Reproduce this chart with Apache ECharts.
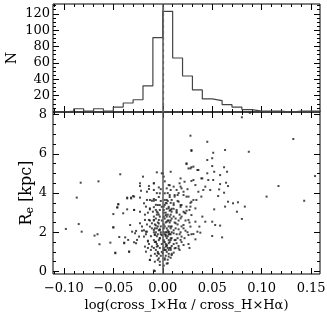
<!DOCTYPE html>
<html>
<head>
<meta charset="utf-8">
<script src="https://cdn.jsdelivr.net/npm/echarts@6/dist/echarts.min.js"></script>
<style>
  html, body { margin: 0; padding: 0; background: #fff; }
  #chart { width: 327px; height: 314px; }
</style>
</head>
<body>
<div id="chart"></div>
<script>
// histogram: left bin edges and counts (bin width 0.01)
var binEdges = [-0.11, -0.10, -0.09, -0.08, -0.07, -0.06, -0.05, -0.04, -0.03, -0.02, -0.01,
  0.00, 0.01, 0.02, 0.03, 0.04, 0.05, 0.06, 0.07, 0.08, 0.09, 0.10, 0.11, 0.12, 0.13, 0.14, 0.15]
var binCounts = [0, 1, 4, 1, 4, 1, 6, 11, 15, 32, 91,
  123, 66, 44, 27, 16, 14, 9, 6, 3, 1, 1, 1, 0, 1, 1, 1]
var binEnd = 0.16
var medianLine = 0.0045

// scatter: [log ratio, Re (kpc)]
var scatterPts = [
  [-0.098, 2.17], [-0.087, 3.77], [-0.083, 4.53], [-0.085, 2.42], [-0.082, 2.03], [-0.065, 4.60],
  [-0.069, 1.83], [-0.066, 1.90], [-0.064, 1.39], [-0.050, 2.24], [-0.048, 0.93], [-0.046, 3.26],
  [-0.045, 3.43], [-0.043, 4.96], [-0.044, 1.76], [-0.040, 2.97], [-0.039, 1.47], [-0.035, 1.61],
  [-0.036, 3.73], [-0.032, 3.77], [-0.030, 3.85], [-0.053, 1.47], [-0.034, 1.01], [-0.029, 3.14],
  [-0.028, 1.95], [-0.026, 1.61], [-0.024, 1.78], [-0.023, 2.46], [-0.023, 3.05], [-0.020, 4.84],
  [-0.021, 2.29], [-0.018, 2.63], [-0.019, 3.48], [-0.016, 3.65], [-0.017, 2.03], [-0.014, 4.21],
  [-0.013, 3.22], [-0.015, 1.53], [-0.013, 0.59], [-0.011, 1.27], [-0.009, 4.50], [-0.006, 5.06],
  [-0.009, 2.63], [-0.007, 3.65], [-0.005, 0.59], [-0.008, 0.02], [-0.003, 0.33], [-0.001, 5.01],
  [-0.003, 3.14],
  [-0.050, 2.93], [-0.050, 2.26], [-0.033, 2.37], [-0.031, 2.03], [-0.027, 2.07], [-0.038, 1.74],
  [-0.039, 1.44], [-0.029, 1.49], [-0.027, 1.44], [-0.048, 0.96], [-0.034, 1.01], [-0.021, 2.08],
  [-0.019, 1.78], [-0.016, 2.03], [-0.014, 2.63], [-0.015, 1.57], [-0.013, 2.29], [-0.011, 2.46],
  [-0.009, 2.80], [-0.009, 2.12], [-0.008, 1.86], [-0.007, 1.52], [-0.006, 1.27], [-0.005, 0.93],
  [-0.004, 0.67], [-0.008, 0.50], [-0.013, 0.59], [-0.009, 0.05], [-0.010, 3.05], [-0.006, 3.05],
  [-0.004, 2.63], [-0.003, 2.12], [-0.003, 1.69], [-0.018, 1.27], [-0.017, 1.01], [-0.012, 1.10],
  [0.029, 6.15], [0.024, 5.48], [0.028, 5.26], [0.031, 5.35], [0.036, 5.18], [0.008, 5.09],
  [0.000, 5.01], [0.001, 4.84], [0.018, 4.75], [0.017, 4.50], [0.022, 4.58], [0.029, 4.62],
  [0.039, 4.75], [0.011, 4.33], [0.006, 4.41], [0.004, 4.24], [0.014, 4.16], [0.019, 4.24],
  [0.033, 4.41], [0.043, 4.33], [0.036, 4.07], [0.002, 3.99], [0.007, 3.90], [0.012, 3.82],
  [0.021, 3.90], [0.026, 3.82], [0.039, 3.82], [0.002, 3.65], [0.009, 3.65], [0.016, 3.56],
  [0.029, 3.56], [0.034, 3.65], [0.004, 3.48], [0.011, 3.39], [0.019, 3.39], [0.024, 3.31],
  [0.033, 3.22], [0.006, 3.22], [0.001, 3.14], [0.014, 3.14], [0.009, 3.05], [0.021, 3.05],
  [0.027, 3.14], [-0.003, 3.99], [-0.003, 3.39],
  [-0.023, 4.50], [-0.023, 4.36], [-0.014, 4.36], [-0.009, 4.50], [-0.004, 4.29], [-0.016, 4.07],
  [-0.022, 4.12], [-0.009, 4.16], [-0.029, 3.82], [-0.032, 3.73], [-0.036, 3.77], [-0.023, 3.77],
  [-0.013, 3.65], [-0.011, 3.61], [-0.009, 3.61], [-0.045, 3.43], [-0.046, 3.28], [-0.036, 3.17],
  [-0.029, 3.14], [-0.017, 3.31], [-0.013, 3.17], [-0.009, 3.28], [-0.007, 3.14], [-0.005, 3.39],
  [0.080, 7.87], [0.088, 8.10], [0.028, 6.93], [0.045, 6.62], [0.029, 6.20], [0.051, 6.06],
  [0.063, 6.20], [0.087, 6.11], [0.132, 6.76], [0.045, 5.69], [0.050, 5.78], [0.050, 5.38],
  [0.024, 5.52], [0.026, 5.26], [0.029, 5.32], [0.062, 5.32], [0.035, 5.18], [0.065, 5.09],
  [0.045, 5.01], [0.052, 5.09], [0.058, 4.92], [0.154, 4.87], [0.117, 4.36], [0.040, 4.75],
  [0.046, 4.67], [0.051, 4.67], [0.064, 4.53], [0.066, 4.36], [0.058, 4.46], [0.031, 4.67],
  [0.041, 4.16], [0.048, 4.16], [0.057, 4.19], [0.062, 4.02], [0.056, 3.85], [0.105, 3.82],
  [0.066, 3.56], [0.071, 3.48], [0.076, 3.53], [0.143, 3.61], [0.063, 3.31], [0.083, 3.31],
  [0.052, 3.17], [0.075, 3.05], [0.080, 2.68], [0.050, 2.54], [0.053, 2.37], [0.058, 2.34],
  [0.040, 2.80], [0.043, 2.54], [0.037, 2.29], [0.035, 2.03], [0.038, 1.98], [0.050, 1.81],
  [0.060, 1.74], [0.031, 1.91], [0.026, 1.86], [0.033, 1.64], [0.018, 1.61], [0.014, 1.44],
  [0.012, 1.18], [0.008, 1.10], [0.009, 0.84], [0.005, 0.42], [0.002, 0.67], [0.011, 0.96],
  [0.004, 1.35], [0.001, 1.10],
  [0.018, 4.33], [0.021, 4.07], [0.008, 4.16], [0.015, 3.90], [0.024, 3.82], [0.031, 3.65],
  [0.004, 3.65], [0.011, 3.48], [0.018, 3.39], [0.028, 3.31], [0.001, 3.31], [0.008, 3.14],
  [0.014, 3.05], [0.023, 2.97], [0.029, 2.88], [0.003, 2.88], [0.011, 2.80], [0.018, 2.71],
  [0.026, 2.63], [0.033, 2.54], [0.004, 2.54], [0.013, 2.46], [0.021, 2.37], [0.008, 2.29],
  [0.028, 2.29], [0.001, 2.20], [0.016, 2.15], [0.023, 2.08], [0.006, 2.03], [0.011, 1.95],
  [0.003, 1.86], [0.019, 1.78], [0.008, 1.69], [0.013, 1.61], [0.001, 1.52], [0.006, 1.44],
  [0.021, 1.35], [0.003, 1.27], [0.016, 1.18], [0.000, 0.93], [0.006, 0.76],
  [-0.001, 2.60], [-0.002, 2.30], [-0.002, 1.90], [-0.003, 2.80], [-0.004, 2.10], [-0.004, 1.60],
  [-0.005, 2.50], [-0.005, 1.30], [-0.006, 2.20], [-0.006, 1.80], [-0.007, 2.70], [-0.007, 1.10],
  [-0.008, 2.40], [-0.008, 1.50], [-0.009, 2.00], [-0.009, 1.20], [-0.001, 3.30], [-0.002, 3.60],
  [-0.003, 1.20], [-0.004, 0.90], [-0.005, 3.00], [-0.006, 0.80], [-0.007, 3.40], [-0.008, 0.90],
  [-0.009, 3.70], [-0.001, 1.40], [-0.002, 0.80], [-0.003, 0.50], [-0.004, 2.90], [-0.005, 1.90],
  [-0.006, 1.40], [-0.007, 2.00], [-0.008, 1.90], [-0.009, 2.60], [-0.002, 4.20], [-0.004, 3.80],
  [-0.006, 4.00], [-0.001, 1.00], [-0.003, 1.70], [-0.005, 2.30], [-0.007, 1.50], [-0.008, 2.20],
  [-0.002, 2.00], [-0.004, 2.45], [-0.006, 2.90], [-0.003, 2.15], [-0.001, 1.85], [-0.005, 1.00],
  [-0.007, 2.35], [-0.009, 1.60],
  [0.001, 2.40], [0.002, 1.90], [0.002, 2.70], [0.003, 1.40], [0.003, 3.00], [0.004, 2.20],
  [0.004, 1.70], [0.005, 2.60], [0.005, 1.20], [0.006, 2.00], [0.006, 3.30], [0.007, 1.50],
  [0.007, 2.50], [0.008, 1.90], [0.008, 2.90], [0.009, 1.30], [0.009, 2.30], [0.001, 1.60],
  [0.001, 3.00], [0.002, 1.10], [0.002, 3.40], [0.003, 2.00], [0.003, 0.80], [0.004, 2.80],
  [0.004, 1.00], [0.005, 1.80], [0.005, 3.60], [0.006, 1.10], [0.006, 2.60], [0.007, 1.90],
  [0.007, 3.80], [0.008, 1.20], [0.008, 2.20], [0.009, 1.70], [0.009, 3.20], [0.001, 2.00],
  [0.002, 2.30], [0.003, 2.50], [0.004, 1.30], [0.005, 2.10], [0.006, 1.60], [0.007, 2.80],
  [0.008, 1.60], [0.009, 2.00], [0.001, 1.20], [0.002, 1.50], [0.003, 1.80], [0.004, 3.20],
  [0.005, 0.60], [0.006, 2.30], [0.007, 1.20], [0.008, 2.60], [0.009, 2.70], [0.001, 2.80],
  [0.003, 3.50], [0.005, 4.00], [0.007, 4.40], [0.002, 4.60], [0.004, 0.40], [0.006, 0.90],
  [0.008, 0.70], [0.001, 0.30], [0.003, 1.10], [0.005, 2.90], [0.007, 3.10], [0.009, 0.90],
  [0.004, 2.00], [0.006, 1.90], [0.002, 0.60], [0.008, 3.50],
  [0.011, 2.10], [0.012, 1.60], [0.013, 2.70], [0.014, 1.90], [0.015, 2.40], [0.016, 1.30],
  [0.017, 2.90], [0.018, 2.00], [0.019, 1.50], [0.011, 3.20], [0.012, 2.50], [0.013, 1.20],
  [0.014, 3.00], [0.015, 1.70], [0.016, 2.60], [0.017, 1.90], [0.018, 3.30], [0.019, 2.30],
  [0.011, 1.40], [0.013, 2.20], [0.015, 3.60], [0.017, 1.10], [0.019, 2.80], [0.012, 3.90],
  [0.016, 4.00],
  [0.021, 2.20], [0.022, 1.70], [0.023, 2.60], [0.024, 3.10], [0.025, 2.00], [0.026, 1.40],
  [0.027, 2.50], [0.028, 3.50], [0.029, 1.90], [0.022, 3.00], [0.025, 4.20], [0.027, 1.20],
  [-0.011, 2.20], [-0.012, 1.80], [-0.013, 2.60], [-0.014, 1.40], [-0.015, 3.00], [-0.016, 2.40],
  [-0.017, 1.90], [-0.018, 2.90], [-0.019, 2.10], [-0.012, 0.80], [-0.015, 1.20]
]

// tick labels
var xTickVals = [-0.10, -0.05, 0.00, 0.05, 0.10, 0.15]
var histTickVals = [20, 40, 60, 80, 100, 120]
var reTickVals = [0, 2, 4, 6, 8]

var X_MIN = -0.111, X_MAX = 0.159
var H_MAX = 132
var R_MIN = -0.13, R_MAX = 8.14
var FONT = 'DejaVu Serif'

function steps(from, to, step) {
  var out = []
  for (var v = from; v <= to + 1e-9; v += step) out.push(Math.round(v * 1000) / 1000)
  return out
}
var xMinor = steps(-0.11, 0.15, 0.01)
var hMinor = steps(5, 130, 5)
var rMinor = steps(0, 8, 0.5)

function fmtX(v) {
  var s = Math.abs(v).toFixed(2)
  return (v < -1e-9 ? '\u2212' : '') + s
}

function axis(o) {
  var a = {
    type: 'value',
    gridIndex: o.grid,
    position: o.pos,
    min: o.min,
    max: o.max,
    axisLine: { show: false, onZero: false },
    splitLine: { show: false },
    axisTick: {
      show: true, inside: true, length: o.len,
      customValues: o.ticks,
      lineStyle: { color: '#000', width: 1 }
    },
    axisLabel: { show: false }
  }
  if (o.labels) {
    a.axisLabel = {
      show: true, customValues: o.ticks, margin: o.margin || 4,
      fontFamily: FONT, fontSize: 13, color: '#000',
      formatter: o.fmt
    }
  }
  if (o.name) {
    a.name = o.name
    a.nameLocation = 'middle'
    a.nameGap = o.nameGap
    a.nameRotate = o.nameRotate
    a.nameMoveOverlap = false
    a.nameTextStyle = o.nameStyle
  }
  return a
}

var chart = echarts.init(document.getElementById('chart'), null, { renderer: 'canvas' })

var histData = binEdges.map(function (e, i) { return [e, binCounts[i]] })
histData.push([binEnd, binCounts[binCounts.length - 1]])

var zeroLine = {
  silent: true, symbol: 'none', animation: false,
  label: { show: false },
  lineStyle: { color: '#555', width: 1.5, type: 'solid' },
  data: [{ xAxis: 0 }]
}

chart.setOption({
  animation: false,
  backgroundColor: '#fff',
  grid: [
    { left: 53, top: 4, width: 267, height: 108, containLabel: false, outerBoundsMode: 'none',
      show: true, borderColor: '#000', borderWidth: 1, backgroundColor: 'transparent' },
    { left: 53, top: 112, width: 267, height: 162, containLabel: false, outerBoundsMode: 'none',
      show: true, borderColor: '#000', borderWidth: 1, backgroundColor: 'transparent' }
  ],
  xAxis: [
    axis({ grid: 0, pos: 'bottom', min: X_MIN, max: X_MAX, len: 6, ticks: xTickVals }),
    axis({ grid: 0, pos: 'bottom', min: X_MIN, max: X_MAX, len: 3, ticks: xMinor }),
    axis({ grid: 0, pos: 'top', min: X_MIN, max: X_MAX, len: 6, ticks: xTickVals }),
    axis({ grid: 0, pos: 'top', min: X_MIN, max: X_MAX, len: 3, ticks: xMinor }),
    axis({ grid: 1, pos: 'bottom', min: X_MIN, max: X_MAX, len: 6, ticks: xTickVals, labels: true, margin: 8, fmt: fmtX,
      name: 'log(cross_I\u00d7H\u03b1 / cross_H\u00d7H\u03b1)', nameGap: 25,
      nameStyle: { fontFamily: FONT, fontSize: 13, color: '#000' } }),
    axis({ grid: 1, pos: 'bottom', min: X_MIN, max: X_MAX, len: 3, ticks: xMinor }),
    axis({ grid: 1, pos: 'top', min: X_MIN, max: X_MAX, len: 6, ticks: xTickVals }),
    axis({ grid: 1, pos: 'top', min: X_MIN, max: X_MAX, len: 3, ticks: xMinor })
  ],
  yAxis: [
    axis({ grid: 0, pos: 'left', min: 0, max: H_MAX, len: 6, ticks: histTickVals, labels: true, margin: 3,
      name: 'N', nameGap: 34, nameRotate: 90,
      nameStyle: { fontFamily: FONT, fontSize: 14, color: '#000' } }),
    axis({ grid: 0, pos: 'left', min: 0, max: H_MAX, len: 3, ticks: hMinor }),
    axis({ grid: 0, pos: 'right', min: 0, max: H_MAX, len: 6, ticks: histTickVals }),
    axis({ grid: 0, pos: 'right', min: 0, max: H_MAX, len: 3, ticks: hMinor }),
    axis({ grid: 1, pos: 'left', min: R_MIN, max: R_MAX, len: 6, ticks: reTickVals, labels: true, margin: 6,
      name: '{r|R}{s|e}{r| [kpc]}', nameGap: 17, nameRotate: 90,
      nameStyle: { color: '#000', rich: {
        r: { fontFamily: FONT, fontSize: 16, color: '#000' },
        s: { fontFamily: FONT, fontSize: 11, color: '#000', padding: [8, 0, 0, 0] }
      } } }),
    axis({ grid: 1, pos: 'left', min: R_MIN, max: R_MAX, len: 3, ticks: rMinor }),
    axis({ grid: 1, pos: 'right', min: R_MIN, max: R_MAX, len: 6, ticks: reTickVals }),
    axis({ grid: 1, pos: 'right', min: R_MIN, max: R_MAX, len: 3, ticks: rMinor })
  ],
  series: [
    {
      type: 'line', xAxisIndex: 0, yAxisIndex: 0,
      step: 'end', symbol: 'none', data: histData,
      lineStyle: { color: '#444', width: 1.2 },
      markLine: {
        silent: true, symbol: 'none', animation: false,
        label: { show: false },
        data: [
          { xAxis: 0, lineStyle: { color: '#555', width: 1.5, type: 'solid' } },
          { xAxis: medianLine, lineStyle: { color: '#666', width: 1.2, type: [3, 3] } }
        ]
      }
    },
    {
      type: 'scatter', xAxisIndex: 4, yAxisIndex: 4,
      symbol: 'rect', symbolSize: 2,
      itemStyle: { color: '#1a1a1a' },
      data: scatterPts,
      markLine: zeroLine
    }
  ]
})
</script>
</body>
</html>
